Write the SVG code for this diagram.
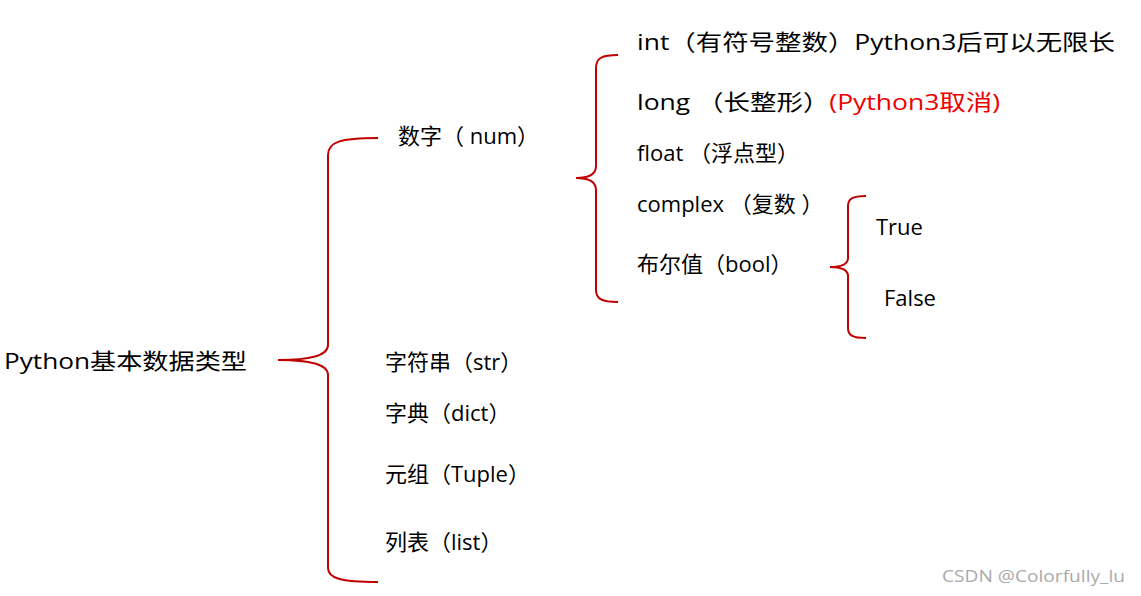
<svg xmlns="http://www.w3.org/2000/svg" width="1141" height="596" viewBox="0 0 1141 596">
<style>
.t{font-family:"Open Sans","Noto Sans CJK SC",sans-serif;font-size:22px;fill:#000}
.r{fill:#e00}
.b{fill:none;stroke:#c00000;stroke-width:2}
.w{font-family:"Open Sans","Noto Sans CJK SC",sans-serif;font-size:17px;fill:#aaa}
</style>
<rect width="1141" height="596" fill="#fff"/>
<g id="connectors">
<path class="b" d="M378,138 C340,138 328,142 328,155 L328,345 C328,356 310,360 278,360 C310,360 328,364 328,375 L328,568 C328,578 340,582 378,582"/>
<path class="b" d="M618,55 C602,55 596,58 596,68 L596,166 C596,174 590,178 576,178 C590,178 596,182 596,190 L596,290 C596,299 602,302 618,302"/>
<path class="b" d="M866,196 C852,196 848,199 848,206 L848,258 C848,264 842,267 830,267 C842,267 848,270 848,276 L848,328 C848,335 852,338 866,338"/>
</g>
<g id="root"><text class="t" x="4" y="369" textLength="243" lengthAdjust="spacingAndGlyphs">Python基本数据类型</text></g>
<g id="num"><text class="t" x="398" y="144">数字（ num）</text></g>
<g id="str"><text class="t" x="385" y="370">字符串（str）</text></g>
<g id="dict"><text class="t" x="385" y="421">字典（dict）</text></g>
<g id="tuple"><text class="t" x="385" y="482">元组（Tuple）</text></g>
<g id="list"><text class="t" x="385" y="550">列表（list）</text></g>
<g id="int"><text class="t" x="637" y="50" textLength="478" lengthAdjust="spacingAndGlyphs">int（有符号整数）Python3后可以无限长</text></g>
<g id="long"><text class="t" x="637" y="110" textLength="363" lengthAdjust="spacingAndGlyphs">long （长整形）<tspan class="r">(Python3取消)</tspan></text></g>
<g id="float"><text class="t" x="637" y="161">float （浮点型）</text></g>
<g id="complex"><text class="t" x="637" y="212">complex （复数 ）</text></g>
<g id="bool"><text class="t" x="637" y="272">布尔值（bool）</text></g>
<g id="true"><text class="t" x="876" y="235">True</text></g>
<g id="false"><text class="t" x="884" y="306">False</text></g>
<text class="w" x="942" y="582" textLength="183" lengthAdjust="spacingAndGlyphs">CSDN @Colorfully_lu</text>
</svg>
